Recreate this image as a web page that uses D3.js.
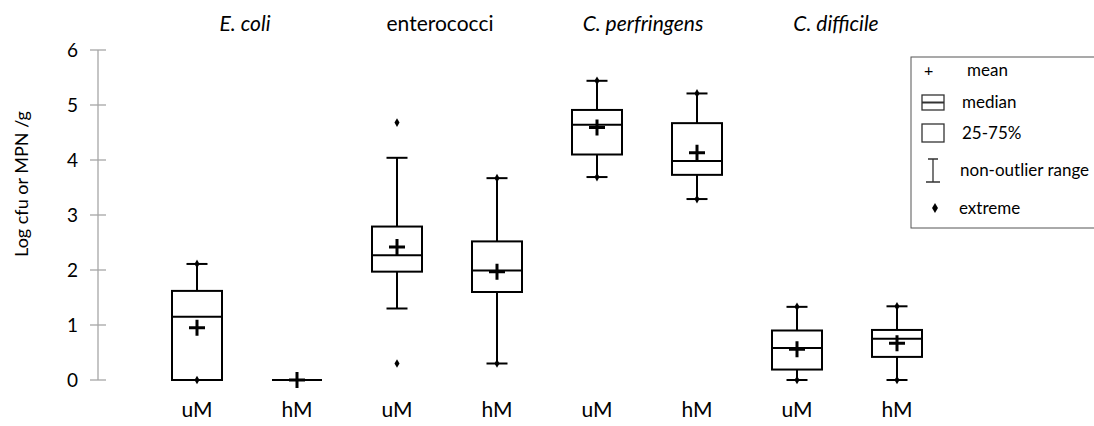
<!DOCTYPE html>
<html>
<head>
<meta charset="utf-8">
<script src="https://cdn.jsdelivr.net/npm/d3@7"></script>
<style>
  body { margin: 0; background: #fff; }
  text { font-family: Lato, "Open Sans", sans-serif; fill: #000; }
</style>
</head>
<body>
<svg id="chart" width="1094" height="426"></svg>
<script>
// organisms and treatments
var organisms = ["E. coli", "enterococci", "C. perfringens", "C. difficile"];
var italicOrg = [true, false, true, true];
var treatments = ["uM", "hM"];

// one value per box, order: E.coli uM, E.coli hM, entero uM, entero hM, perf uM, perf hM, diff uM, diff hM
var whiskerLow  = [0,    0, 1.30, 0.30, 3.69, 3.29, 0,    0];
var q1          = [0,    0, 1.97, 1.60, 4.10, 3.73, 0.19, 0.42];
var median      = [1.15, 0, 2.27, 1.99, 4.64, 3.98, 0.58, 0.75];
var mean        = [0.95, 0, 2.42, 1.97, 4.59, 4.13, 0.56, 0.67];
var q3          = [1.62, 0, 2.79, 2.52, 4.91, 4.67, 0.90, 0.91];
var whiskerHigh = [2.11, 0, 4.04, 3.67, 5.44, 5.21, 1.33, 1.34];
// single points drawn as diamonds
var points = [[0, 2.11], [], [0.30, 4.68], [0.30, 3.67], [3.69, 5.44], [3.29, 5.21], [0, 1.33], [0, 1.34]];

var yTicks = [0, 1, 2, 3, 4, 5, 6];

var svg = d3.select("#chart"),
    axisX = 98;

var boxes = [];
organisms.forEach(function(o, i) {
    treatments.forEach(function(t, j) {
        var k = i * 2 + j;
        boxes.push({ key: o + "|" + t, org: o, treat: t,
            lo: whiskerLow[k], q1: q1[k], med: median[k], mean: mean[k],
            q3: q3[k], hi: whiskerHigh[k], pts: points[k] });
    });
});

var x = d3.scalePoint()
    .domain(boxes.map(function(d) { return d.key; }))
    .range([197, 897]);

var y = d3.scaleLinear().domain([0, 6]).range([380, 50]);

// y axis
var yAxis = svg.append("g").attr("transform", "translate(" + axisX + ",0)");
yAxis.append("line")
    .attr("y1", y(0)).attr("y2", y(6))
    .attr("stroke", "#a6a6a6").attr("stroke-width", 1.3);
yAxis.selectAll(".tick").data(yTicks).enter().append("line")
    .attr("x1", -8).attr("x2", 8)
    .attr("y1", function(d) { return y(d); })
    .attr("y2", function(d) { return y(d); })
    .attr("stroke", "#a6a6a6").attr("stroke-width", 1.3);
yAxis.selectAll(".lbl").data(yTicks).enter().append("text")
    .attr("x", -20)
    .attr("y", function(d) { return y(d); })
    .attr("dy", "0.35em")
    .attr("text-anchor", "end")
    .style("font-size", "19px")
    .text(function(d) { return d; });

svg.append("text")
    .attr("transform", "translate(28,184) rotate(-90)")
    .attr("text-anchor", "middle")
    .style("font-size", "18px")
    .text("Log cfu or MPN /g");

// organism titles, centred over each pair (slightly left)
var titleShift = [-2, -7, -4, -11];
svg.selectAll(".title").data(organisms).enter().append("text")
    .attr("x", function(d, i) {
        return (x(d + "|uM") + x(d + "|hM")) / 2 + titleShift[i];
    })
    .attr("y", 31)
    .attr("text-anchor", "middle")
    .style("font-size", "21px")
    .style("font-style", function(d, i) { return italicOrg[i] ? "italic" : "normal"; })
    .text(function(d) { return d; });

// boxes
var boxW = 50, capW = 21;
var g = svg.selectAll(".box").data(boxes).enter().append("g")
    .attr("transform", function(d) { return "translate(" + x(d.key) + ",0)"; });

g.append("line")
    .attr("y1", function(d) { return y(d.hi); })
    .attr("y2", function(d) { return y(d.q3); })
    .attr("stroke", "#000").attr("stroke-width", 2);
g.append("line")
    .attr("y1", function(d) { return y(d.q1); })
    .attr("y2", function(d) { return y(d.lo); })
    .attr("stroke", "#000").attr("stroke-width", 2);
g.append("line")
    .attr("x1", -capW / 2).attr("x2", capW / 2)
    .attr("y1", function(d) { return y(d.hi); })
    .attr("y2", function(d) { return y(d.hi); })
    .attr("stroke", "#000").attr("stroke-width", 2);
g.append("line")
    .attr("x1", -capW / 2).attr("x2", capW / 2)
    .attr("y1", function(d) { return y(d.lo); })
    .attr("y2", function(d) { return y(d.lo); })
    .attr("stroke", "#000").attr("stroke-width", 2);
g.append("rect")
    .attr("x", -boxW / 2).attr("width", boxW)
    .attr("y", function(d) { return y(d.q3); })
    .attr("height", function(d) { return y(d.q1) - y(d.q3); })
    .attr("fill", "#fff").attr("stroke", "#000").attr("stroke-width", 2);
g.append("line")
    .attr("x1", -boxW / 2).attr("x2", boxW / 2)
    .attr("y1", function(d) { return y(d.med); })
    .attr("y2", function(d) { return y(d.med); })
    .attr("stroke", "#000").attr("stroke-width", 2);

// mean crosses
g.append("path")
    .attr("d", function(d) {
        var cy = y(d.mean);
        return "M-8," + cy + "H8M0," + (cy - 8) + "V" + (cy + 8);
    })
    .attr("stroke", "#000").attr("stroke-width", 3);

// single points
var diamond = d3.symbol().type(d3.symbolDiamond).size(22);
g.each(function(d) {
    d3.select(this).selectAll(".pt").data(d.pts).enter().append("path")
        .attr("d", diamond)
        .attr("transform", function(v) { return "translate(0," + y(v) + ")"; })
        .attr("fill", "#000");
});

// category labels
svg.selectAll(".cat").data(boxes).enter().append("text")
    .attr("x", function(d) { return x(d.key); })
    .attr("y", 417)
    .attr("text-anchor", "middle")
    .style("font-size", "21px")
    .text(function(d) { return d.treat; });

// legend
var leg = svg.append("g").attr("transform", "translate(911,57)");
leg.append("rect")
    .attr("width", 190).attr("height", 171)
    .attr("fill", "#fff").attr("stroke", "#555").attr("stroke-width", 1);
leg.append("text").attr("x", 13).attr("y", 19).style("font-size", "16px").text("+");
leg.append("text").attr("x", 56).attr("y", 19).style("font-size", "17px").text("mean");
leg.append("rect").attr("x", 11).attr("y", 38).attr("width", 22).attr("height", 15)
    .attr("fill", "none").attr("stroke", "#333").attr("stroke-width", 1.3);
leg.append("line").attr("x1", 11).attr("x2", 33).attr("y1", 45.5).attr("y2", 45.5)
    .attr("stroke", "#333").attr("stroke-width", 2);
leg.append("text").attr("x", 51).attr("y", 51).style("font-size", "17px").text("median");
leg.append("rect").attr("x", 11).attr("y", 67).attr("width", 22).attr("height", 18)
    .attr("fill", "none").attr("stroke", "#333").attr("stroke-width", 1.3);
leg.append("text").attr("x", 51).attr("y", 82).style("font-size", "17px").text("25-75%");
leg.append("path")
    .attr("d", "M17,102H27M22,102V125M15,125H29")
    .attr("fill", "none").attr("stroke", "#333").attr("stroke-width", 1.3);
leg.append("text").attr("x", 49).attr("y", 119).style("font-size", "17px").text("non-outlier range");
leg.append("path").attr("d", d3.symbol().type(d3.symbolDiamond).size(30))
    .attr("transform", "translate(24,151)").attr("fill", "#000");
leg.append("text").attr("x", 48).attr("y", 157).style("font-size", "17px").text("extreme");
</script>
</body>
</html>
